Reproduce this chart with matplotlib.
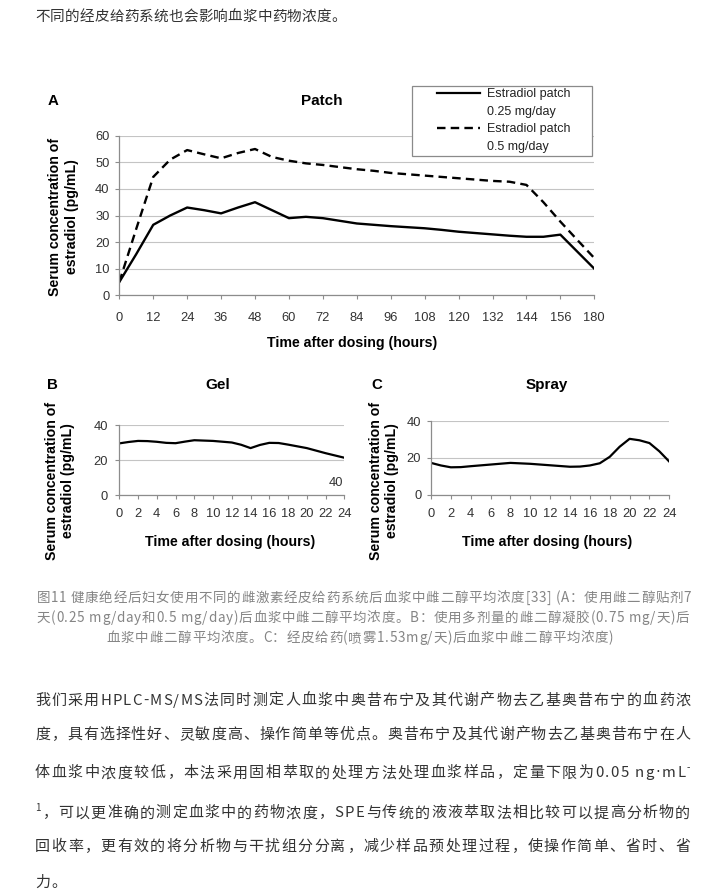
import matplotlib
matplotlib.use('Agg')
import matplotlib.pyplot as plt
from matplotlib.font_manager import FontProperties
from matplotlib.lines import Line2D
from matplotlib.patches import Rectangle

W, H = 719, 894

# ---------------- data ----------------
# panel A: hour labels sit on an evenly spaced category axis
patch_hours = [0, 12, 24, 36, 48, 60, 72, 84, 96, 108, 120, 132, 144, 156, 180]
# readings every half category step
patch_pos = [i / 2 for i in range(29)]
patch_025 = [5, 15.5, 26.5, 30, 33, 32, 30.8, 33, 35, 32, 29, 29.5, 29, 28, 27,
             26.5, 26, 25.6, 25.2, 24.6, 23.9, 23.4, 22.9, 22.4, 22, 22, 22.8, 16.4, 10]
patch_050 = [5, 25, 44.5, 51, 54.6, 53, 51.5, 53.5, 55, 52, 50.6, 49.6, 49, 48.2, 47.4,
             46.8, 46, 45.5, 45, 44.5, 44, 43.5, 43, 42.7, 41.5, 35, 27.7, 20.8, 14]

gel_hours = [0, 1, 2, 3, 4, 5, 6, 7, 8, 10, 12, 13, 14, 15, 16, 17, 18, 20, 22, 24]
gel_conc = [29.5, 30.3, 30.9, 30.8, 30.4, 29.8, 29.6, 30.5, 31.3, 30.9, 30.0, 28.7,
            26.8, 28.6, 29.8, 29.7, 28.8, 26.8, 23.9, 21.3]

spray_hours = [0, 1, 2, 3, 4, 6, 8, 10, 12, 14, 15, 16, 17, 18, 19, 20, 21, 22, 23, 24]
spray_conc = [17.2, 15.8, 14.8, 14.9, 15.4, 16.3, 17.2, 16.7, 15.9, 15.1, 15.2, 15.8,
              17.0, 20.5, 26.0, 30.3, 29.5, 28.0, 23.5, 17.9]

legend_labels = ['Estradiol patch', '0.25 mg/day', 'Estradiol patch', '0.5 mg/day']

top_text = '不同的经皮给药系统也会影响血浆中药物浓度。'
caption = ['图11 健康绝经后妇女使用不同的雌激素经皮给药系统后血浆中雌二醇平均浓度[33] (A：使用雌二醇贴剂7',
           '天(0.25 mg/day和0.5 mg/day)后血浆中雌二醇平均浓度。B：使用多剂量的雌二醇凝胶(0.75 mg/天)后',
           '血浆中雌二醇平均浓度。C：经皮给药(喷雾1.53mg/天)后血浆中雌二醇平均浓度)']
body = ['我们采用HPLC-MS/MS法同时测定人血浆中奥昔布宁及其代谢产物去乙基奥昔布宁的血药浓',
        '度，具有选择性好、灵敏度高、操作简单等优点。奥昔布宁及其代谢产物去乙基奥昔布宁在人',
        '体血浆中浓度较低，本法采用固相萃取的处理方法处理血浆样品，定量下限为0.05 ng·mL⁻',
        '¹，可以更准确的测定血浆中的药物浓度，SPE与传统的液液萃取法相比较可以提高分析物的',
        '回收率，更有效的将分析物与干扰组分分离，减少样品预处理过程，使操作简单、省时、省',
        '力。']

CJK = ['Noto Sans CJK SC', 'DejaVu Sans']
NARROW = ['DejaVu Sans']
SANS = 'Liberation Sans'
SUPER = {'¹': '1', '⁻': '-'}

fig = plt.figure(figsize=(W / 100, H / 100), dpi=100)
fig.patch.set_facecolor('white')
renderer = fig.canvas.get_renderer()


def fx(x):
    return x / W


def fy(y):
    return 1 - y / H


def fam(ch):
    # the CJK font draws the middle dot full width
    return NARROW if ch == '·' else CJK


_adv = {}


def adv(ch, size):
    key = (ch, size)
    if key not in _adv:
        if ch in SUPER:
            ch, size = SUPER[ch], size * 0.65
        fp = FontProperties(family=fam(ch), size=size * 0.72)
        ref = '中' if fam(ch) is CJK else 'n'
        w2 = renderer.get_text_width_height_descent(ref * 2, fp, ismath=False)[0]
        w3 = renderer.get_text_width_height_descent(ref + ch + ref, fp, ismath=False)[0]
        _adv[key] = w3 - w2
    return _adv[key]


def put_line(s, x0, y, size, color, x1=None, gap=0.0, center=None):
    a = [adv(c, size) for c in s]
    if x1 is not None and len(s) > 1:
        gap = (x1 - x0 - sum(a)) / (len(s) - 1)
    total = sum(a) + gap * (len(s) - 1)
    if center is not None:
        x0 = center - total / 2
    base = y + 0.38 * size
    x = x0
    for c, w in zip(s, a):
        if c in SUPER:
            fig.text(fx(x), fy(base - 0.45 * size), SUPER[c], fontsize=size * 0.65 * 0.72,
                     family=CJK, color=color, ha='left', va='baseline')
        elif c != ' ':
            fig.text(fx(x), fy(base), c, fontsize=size * 0.72, family=fam(c),
                     color=color, ha='left', va='baseline')
        x += w + gap
    return gap


# ---------------- page text ----------------
put_line(top_text, 35, 15, 14.6, '#333333', gap=0.2)

g = put_line(caption[0], 36.5, 596.7, 13.5, '#858585', x1=691)
put_line(caption[1], 36.5, 616.7, 13.5, '#858585', x1=689)
put_line(caption[2], 0, 636.7, 13.5, '#858585', gap=g, center=360)

body_y = [699, 733, 771.7, 811.7, 845, 881]
for i, (line, y) in enumerate(zip(body, body_y)):
    if i < 5:
        put_line(line, 35, y, 15, '#333333', x1=690)
    else:
        put_line(line, 35, y, 15, '#333333', gap=1.5)


# ---------------- charts ----------------
def style_axes(ax, pad_x, pad_y):
    for s in ['top', 'right']:
        ax.spines[s].set_visible(False)
    for s in ['left', 'bottom']:
        ax.spines[s].set_color('#8c8c8c')
        ax.spines[s].set_linewidth(0.9)
    ax.set_facecolor('none')
    ax.yaxis.grid(True, color='#c4c4c4', lw=0.8)
    ax.set_axisbelow(True)
    ax.tick_params(axis='both', direction='out', length=3.2, width=0.8,
                   color='#8c8c8c', labelcolor='#333333', labelsize=9.3)
    ax.tick_params(axis='x', pad=pad_x)
    ax.tick_params(axis='y', pad=pad_y)
    for lab in ax.get_xticklabels() + ax.get_yticklabels():
        lab.set_family(SANS)


def bold(x, y, s, size, ha='center', **kw):
    fig.text(fx(x), fy(y), s, fontsize=size, family=SANS, fontweight='bold',
             ha=ha, va='center', color='black', **kw)


ylab = 'Serum concentration of\nestradiol (pg/mL)'
xlab = 'Time after dosing (hours)'

# panel A
ax_a = fig.add_axes([fx(119.3), fy(295.3), (594.3 - 119.3) / W, (295.3 - 135.7) / H])
ax_a.plot(patch_pos, patch_025, color='black', lw=1.7, solid_joinstyle='round')
ax_a.plot(patch_pos, patch_050, color='black', lw=1.7, ls=(0, (3.6, 2.2)))
ax_a.set_xlim(0, 14)
ax_a.set_ylim(0, 60)
ax_a.set_xticks(range(len(patch_hours)))
ax_a.set_xticklabels([str(h) for h in patch_hours])
ax_a.set_yticks(range(0, 61, 10))
style_axes(ax_a, 8.5, 3.8)

bold(47.3, 101, 'A', 10.8, ha='left')
bold(322, 101, 'Patch', 11)
bold(352, 343, xlab, 10.2)
bold(63.5, 217, ylab, 10.2, rotation=90, multialignment='center')

fig.add_artist(Rectangle((fx(411.7), fy(156)), (592.3 - 411.7) / W, (156 - 85.7) / H,
                         transform=fig.transFigure, facecolor='white',
                         edgecolor='#8a8a8a', lw=0.9, zorder=4))
handles = [Line2D([], [], color='black', lw=1.6),
           Line2D([], [], color='none'),
           Line2D([], [], color='black', lw=1.7, ls=(0, (3.6, 2.2))),
           Line2D([], [], color='none')]
leg = fig.legend(handles, legend_labels, loc='upper left',
                 bbox_to_anchor=(fx(436.7), fy(88)), frameon=False,
                 borderpad=0, borderaxespad=0, handlelength=3.5,
                 handletextpad=0.5, labelspacing=0.45,
                 prop=FontProperties(family=SANS, size=9.0))
leg.set_zorder(5)
for t in leg.get_texts():
    t.set_color('#222222')

# panel B
ax_b = fig.add_axes([fx(119.3), fy(495), (344.3 - 119.3) / W, (495 - 425) / H])
ax_b.plot(gel_hours, gel_conc, color='black', lw=1.6)
ax_b.set_xlim(0, 24)
ax_b.set_ylim(0, 40)
ax_b.set_xticks(range(0, 25, 2))
ax_b.set_yticks([0, 20, 40])
style_axes(ax_b, 6.3, 5.0)
ax_b.text(23.1, 7.0, '40', ha='center', va='center', fontsize=9.3,
          family=SANS, color='#333333')

bold(47, 385, 'B', 10.8, ha='left')
bold(218, 385, 'Gel', 11)
bold(230.5, 541.7, xlab, 10.2)
bold(60, 481, ylab, 10.2, rotation=90, multialignment='center')

# panel C
ax_c = fig.add_axes([fx(431), fy(494.5), (669.3 - 431) / W, (494.5 - 421) / H])
ax_c.plot(spray_hours, spray_conc, color='black', lw=1.6)
ax_c.set_xlim(0, 24)
ax_c.set_ylim(0, 40)
ax_c.set_xticks(range(0, 25, 2))
ax_c.set_yticks([0, 20, 40])
style_axes(ax_c, 6.3, 3.8)

bold(371.7, 385, 'C', 10.8, ha='left')
bold(546.7, 385, 'Spray', 11)
bold(546.7, 541.7, xlab, 10.2)
bold(384, 481, ylab, 10.2, rotation=90, multialignment='center')

fig.savefig('out.png', dpi=100, facecolor='white')
